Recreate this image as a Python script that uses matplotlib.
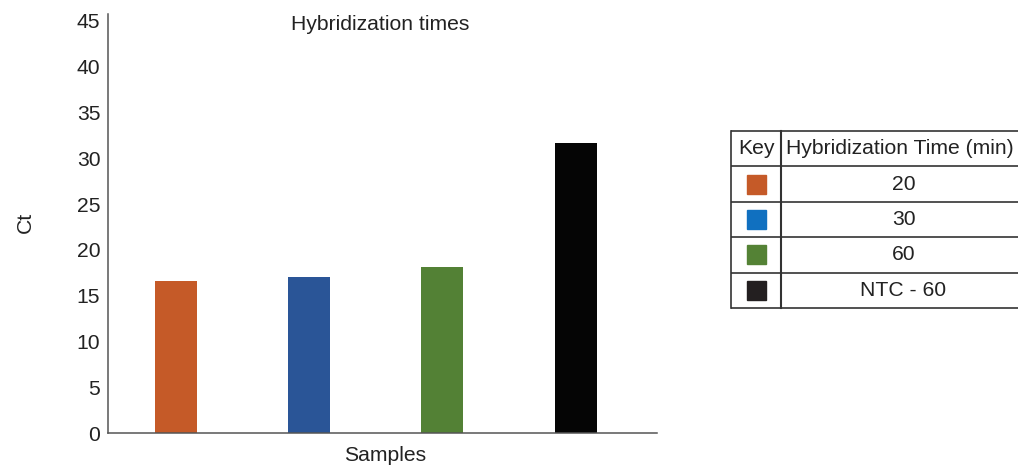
import matplotlib
matplotlib.use("Agg")
import matplotlib.pyplot as plt
from matplotlib.patches import Rectangle

plt.rcParams['font.family'] = ['Liberation Sans', 'DejaVu Sans']

# Data
samples = ["20", "30", "60", "NTC - 60"]
ct_values = [16.57, 17.0, 18.1, 31.7]
bar_colors = ["#C55A28", "#2A5597", "#538135", "#050505"]
key_colors = ["#C55A28", "#1070C0", "#548235", "#231F20"]
yticks = [0, 5, 10, 15, 20, 25, 30, 35, 40, 45]
title = "Hybridization times"
xlabel = "Samples"
ylabel = "Ct"
table_header = ["Key", "Hybridization Time (min)"]

FS = 15.2
TC = "#222222"
W, H = 1018, 465
fig = plt.figure(figsize=(W / 100, H / 100), dpi=100)

ax = fig.add_axes([108 / W, (H - 433) / H, (657 - 108) / W, (433 - 14) / H])
x = list(range(len(samples)))
ax.bar(x, ct_values, width=0.315, color=bar_colors)
ax.set_xlim(-0.51, 3.61)
ax.set_ylim(0, 45.76)
ax.set_yticks(yticks)
ax.set_yticklabels([str(v) for v in yticks], fontsize=FS, color=TC)
ax.set_xticks([])
ax.tick_params(axis='y', length=0, pad=5.5)
for s in ["top", "right"]:
    ax.spines[s].set_visible(False)
for s in ["left", "bottom"]:
    ax.spines[s].set_color("#555555")
    ax.spines[s].set_linewidth(1.1)
fig.text(380 / W, 1 - 25 / H, title, ha="center", va="center", fontsize=FS, color=TC)
fig.text(385 / W, 1 - 455 / H, xlabel, ha="center", va="center", fontsize=FS, color=TC)
fig.text(25 / W, 1 - 222 / H, ylabel, ha="center", va="center", rotation=90,
         fontsize=FS, color=TC)

# Key table
tx0, ty0, tw, th = 731, 131, W - 731, 308 - 131
tax = fig.add_axes([tx0 / W, (H - ty0 - th) / H, tw / W, th / H])
tax.set_xlim(0, tw)
tax.set_ylim(th, 0)
tax.axis("off")
row_h = th / (len(samples) + 1)
col_x = 50
lc = "#333333"
for i in range(len(samples) + 2):
    tax.plot([0, tw], [i * row_h, i * row_h], color=lc, lw=1.2, clip_on=False,
             solid_capstyle="butt")
tax.plot([0, 0], [0, th], color=lc, lw=1.2, clip_on=False)
tax.plot([col_x, col_x], [0, th], color=lc, lw=1.5, clip_on=False)
tax.text(col_x / 2, row_h / 2, table_header[0], ha="center", va="center",
         fontsize=FS, color=TC)
tax.text(col_x + 5, row_h / 2, table_header[1], ha="left", va="center",
         fontsize=FS, color=TC)
sq = 19
for i, (lab, c) in enumerate(zip(samples, key_colors)):
    yc = (i + 1.5) * row_h
    tax.add_patch(Rectangle((col_x / 2 - sq / 2, yc - sq / 2), sq, sq, color=c))
    tax.text(col_x + (tw - col_x) / 2 + 4, yc, lab, ha="center", va="center",
             fontsize=FS, color=TC)

fig.savefig("out.png", dpi=100)
